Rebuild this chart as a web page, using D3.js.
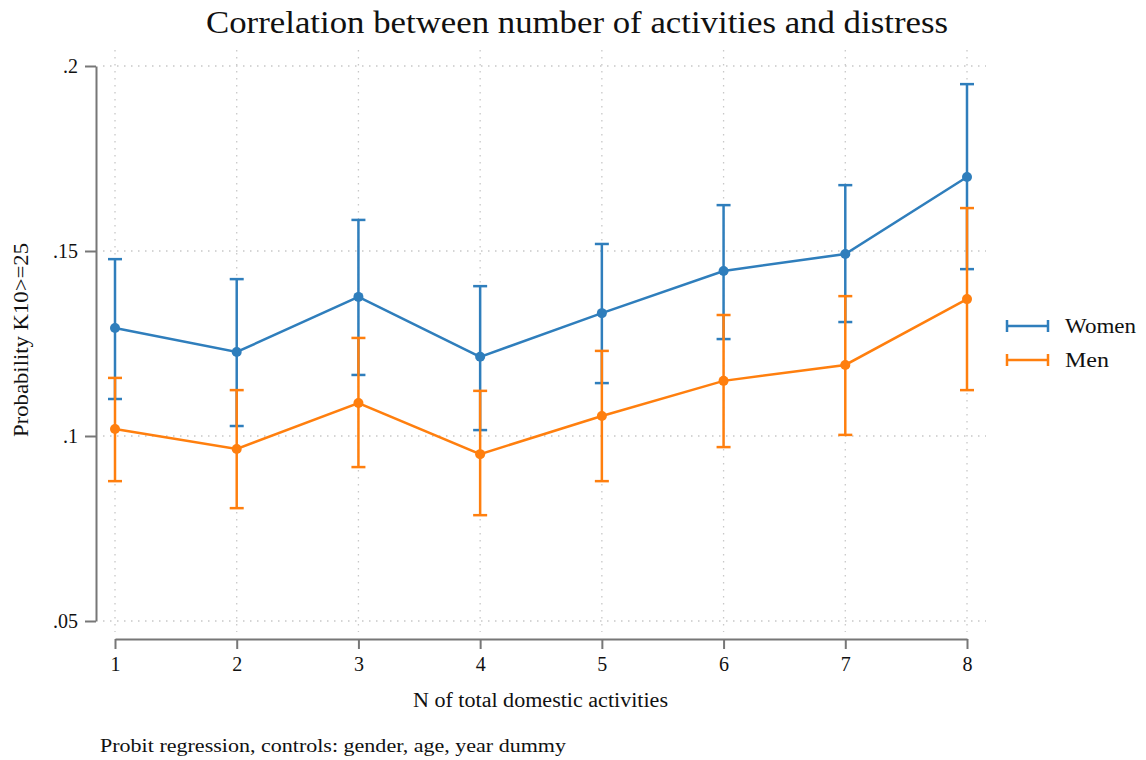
<!DOCTYPE html>
<html><head><meta charset="utf-8">
<script src="https://cdn.jsdelivr.net/npm/d3@7"></script>
<style>body{margin:0;background:#fff}svg{display:block}text{font-family:"Liberation Serif","DejaVu Serif",serif;fill:#111}</style>
</head><body><svg id="c" width="1146" height="760"></svg>
<script>
const xCats = [1,2,3,4,5,6,7,8];
const yTicks = [0.05,0.10,0.15,0.20];
const yTickLabels = [".05",".1",".15",".2"];
const womenEst = [0.1292,0.1227,0.1376,0.1214,0.1332,0.1446,0.1492,0.1700];
const womenHi  = [0.1478,0.1424,0.1584,0.1405,0.1519,0.1624,0.1678,0.1951];
const womenLo  = [0.1100,0.1027,0.1165,0.1016,0.1143,0.1262,0.1308,0.1451];
const menEst = [0.1019,0.0965,0.1089,0.0951,0.1054,0.1149,0.1192,0.1370];
const menHi  = [0.1157,0.1124,0.1265,0.1122,0.1230,0.1327,0.1378,0.1616];
const menLo  = [0.0878,0.0805,0.0916,0.0786,0.0878,0.0970,0.1003,0.1124];
const seriesNames = ["Women","Men"];
const colors = ["#2f7ebc","#ff7f0e"];

const svg = d3.select("#c");
const x = d3.scaleLinear().domain([1,8]).range([115,967]);
const y = d3.scaleLinear().domain([0.05,0.2]).range([621,66]);

// grid
const grid = svg.append("g").attr("stroke","#c8c8c8").attr("stroke-width",1.3).attr("stroke-dasharray","1.5,5.5");
yTicks.forEach(t=>grid.append("line").attr("x1",103).attr("x2",986).attr("y1",y(t)).attr("y2",y(t)));
xCats.forEach(c=>grid.append("line").attr("x1",x(c)).attr("x2",x(c)).attr("y1",50).attr("y2",632));

// y axis
const yAxis = d3.axisLeft(y).tickValues(yTicks).tickFormat((d,i)=>yTickLabels[i]).tickSize(11).tickSizeOuter(0).tickPadding(7);
const gy = svg.append("g").attr("transform","translate(96,0)").call(yAxis);
gy.select(".domain").attr("stroke","#777").attr("stroke-width",2);
gy.selectAll(".tick line").attr("stroke","#777").attr("stroke-width",2);
gy.selectAll(".tick text").attr("font-size",20).attr("font-family","Liberation Serif").attr("fill","#111");

// x axis
const xAxis = d3.axisBottom(x).tickValues(xCats).tickFormat(d3.format("d")).tickSize(10).tickSizeOuter(0).tickPadding(8);
const gx = svg.append("g").attr("transform","translate(0,639)").call(xAxis);
gx.select(".domain").attr("stroke","#777").attr("stroke-width",2);
gx.selectAll(".tick line").attr("stroke","#777").attr("stroke-width",2);
gx.selectAll(".tick text").attr("font-size",20).attr("font-family","Liberation Serif").attr("fill","#111");

// series
const data = [
  {est:womenEst,hi:womenHi,lo:womenLo},
  {est:menEst,hi:menHi,lo:menLo}
];
const cap = 7;
data.forEach((s,k)=>{
  const g = svg.append("g");
  const col = colors[k];
  xCats.forEach((c,i)=>{
    g.append("line").attr("x1",x(c)).attr("x2",x(c)).attr("y1",y(s.hi[i])).attr("y2",y(s.lo[i])).attr("stroke",col).attr("stroke-width",2.5);
    [s.hi[i],s.lo[i]].forEach(v=>g.append("line").attr("x1",x(c)-cap).attr("x2",x(c)+cap).attr("y1",y(v)).attr("y2",y(v)).attr("stroke",col).attr("stroke-width",2.5));
  });
  g.append("path").datum(xCats.map((c,i)=>[c,s.est[i]]))
    .attr("d",d3.line().x(d=>x(d[0])).y(d=>y(d[1]))).attr("fill","none").attr("stroke",col).attr("stroke-width",2.5);
  g.selectAll("circle").data(xCats).join("circle").attr("cx",c=>x(c)).attr("cy",(c,i)=>y(s.est[i])).attr("r",5).attr("fill",col);
});

// legend
seriesNames.forEach((n,k)=>{
  const ly = 326 + k*34, col = colors[k];
  svg.append("line").attr("x1",1007).attr("x2",1048).attr("y1",ly).attr("y2",ly).attr("stroke",col).attr("stroke-width",2.5);
  [1007,1048].forEach(xx=>svg.append("line").attr("x1",xx).attr("x2",xx).attr("y1",ly-6).attr("y2",ly+6).attr("stroke",col).attr("stroke-width",2.5));
  svg.append("text").attr("x",1065).attr("y",ly+7).attr("font-size",21).attr("textLength",n==="Women"?71:44).attr("lengthAdjust","spacingAndGlyphs").text(n);
});

// titles
svg.append("text").attr("x",206).attr("y",33).attr("font-size",31).attr("textLength",742).attr("lengthAdjust","spacingAndGlyphs").text("Correlation between number of activities and distress");
svg.append("text").attr("x",413).attr("y",707).attr("font-size",20).attr("textLength",255).attr("lengthAdjust","spacingAndGlyphs").text("N of total domestic activities");
svg.append("text").attr("transform","translate(28,437) rotate(-90)").attr("font-size",20).attr("textLength",194).attr("lengthAdjust","spacingAndGlyphs").text("Probability K10>=25");
svg.append("text").attr("x",100).attr("y",752).attr("font-size",19).attr("textLength",466).attr("lengthAdjust","spacingAndGlyphs").text("Probit regression, controls: gender, age, year dummy");
</script></body></html>
